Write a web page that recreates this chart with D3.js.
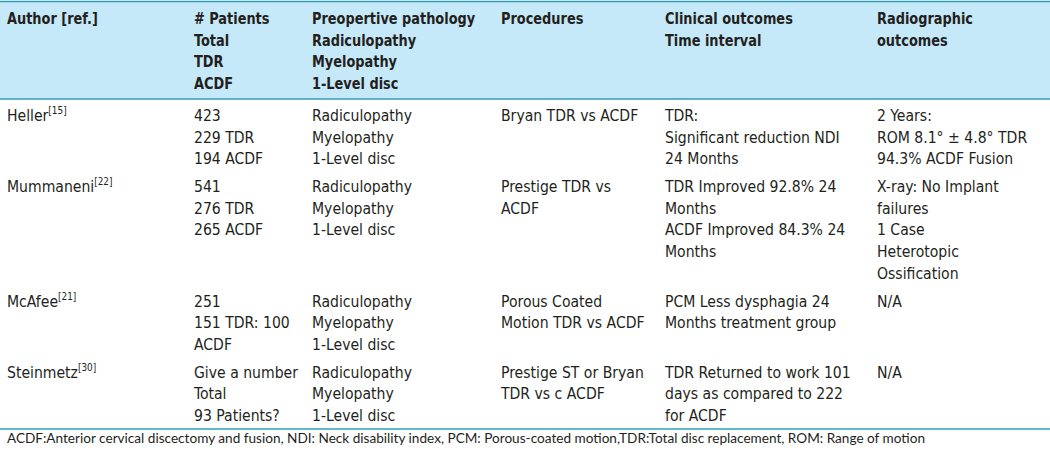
<!DOCTYPE html>
<html>
<head>
<meta charset="UTF-8">
<style>
  html, body { margin: 0; padding: 0; background: #fff; }
</style>
<script src="https://d3js.org/d3.v7.min.js"></script>
</head>
<body>
<div id="viz"></div>
<script>
// column headers (one entry per line)
const headers = [
  ["Author [ref.]"],
  ["# Patients", "Total", "TDR", "ACDF"],
  ["Preopertive pathology", "Radiculopathy", "Myelopathy", "1-Level disc"],
  ["Procedures"],
  ["Clinical outcomes", "Time interval"],
  ["Radiographic", "outcomes"]
];

const authors = ["Heller", "Mummaneni", "McAfee", "Steinmetz"];
const refs = ["[15]", "[22]", "[21]", "[30]"];
const patients = [
  ["423", "229 TDR", "194 ACDF"],
  ["541", "276 TDR", "265 ACDF"],
  ["251", "151 TDR: 100", "ACDF"],
  ["Give a number", "Total", "93 Patients?"]
];
const pathology = [
  ["Radiculopathy", "Myelopathy", "1-Level disc"],
  ["Radiculopathy", "Myelopathy", "1-Level disc"],
  ["Radiculopathy", "Myelopathy", "1-Level disc"],
  ["Radiculopathy", "Myelopathy", "1-Level disc"]
];
const procedures = [
  ["Bryan TDR vs ACDF"],
  ["Prestige TDR vs", "ACDF"],
  ["Porous Coated", "Motion TDR vs ACDF"],
  ["Prestige ST or Bryan", "TDR vs c ACDF"]
];
const clinical = [
  ["TDR:", "Significant reduction NDI", "24 Months"],
  ["TDR Improved 92.8% 24", "Months", "ACDF Improved 84.3% 24", "Months"],
  ["PCM Less dysphagia 24", "Months treatment group"],
  ["TDR Returned to work 101", "days as compared to 222", "for ACDF"]
];
const radiographic = [
  ["2 Years:", "ROM 8.1\u00b0 \u00b1 4.8\u00b0 TDR", "94.3% ACDF Fusion"],
  ["X-ray: No Implant", "failures", "1 Case", "Heterotopic", "Ossification"],
  ["N/A"],
  ["N/A"]
];
const footnote = "ACDF:Anterior cervical discectomy and fusion, NDI: Neck disability index, PCM: Porous-coated motion,TDR:Total disc replacement, ROM: Range of motion";

const width = 1050, height = 451;
const lineH = 21.7, rowPad = 6;
const colX = d3.scaleOrdinal().domain(d3.range(6)).range([7, 194, 312, 501, 665, 877]);
const teal = "#2f9cb6", headBg = "#c6e9f9", ink = "#231f20";
// no narrow font installed: squeeze DejaVu Sans Condensed horizontally
const sxReg = 0.945, sxBold = 0.87;

const svg = d3.select("#viz").append("svg")
  .attr("width", width).attr("height", height)
  .attr("font-family", "'Liberation Sans Narrow', 'DejaVu Sans Condensed', sans-serif")
  .attr("font-size", 16.5).attr("fill", ink);

// header band
const headTop = 1.5, headBottom = 99;
svg.append("rect").attr("x", 0).attr("y", headTop).attr("width", width)
  .attr("height", headBottom - headTop).attr("fill", headBg);

headers.forEach((lines, c) => {
  svg.append("g").attr("transform", `translate(${colX(c)},0) scale(${sxBold},1)`)
    .selectAll("text").data(lines).join("text")
    .attr("x", 0).attr("y", (d, i) => 24 + i * lineH)
    .attr("font-weight", "bold").text(d => d);
});

// body rows
const rows = authors.map((a, r) => ({
  cells: [[a], patients[r], pathology[r], procedures[r], clinical[r], radiographic[r]],
  ref: refs[r]
}));
let y = headBottom;
rows.forEach(row => {
  const n = d3.max(row.cells, c => c.length);
  row.cells.forEach((lines, c) => {
    const t = svg.append("g").attr("transform", `translate(${colX(c)},${y}) scale(${sxReg},1)`)
      .selectAll("text").data(lines).join("text")
      .attr("x", 0).attr("y", (d, i) => 22 + i * lineH)
      .text(d => d);
    if (c === 0) t.append("tspan").attr("font-size", 10.5).attr("dy", -7).text(row.ref);
  });
  y += n * lineH + rowPad;
});

// rules
[headTop, headBottom, 429].forEach(ry => {
  svg.append("line").attr("x1", 0).attr("x2", width).attr("y1", ry).attr("y2", ry)
    .attr("stroke", teal).attr("stroke-width", 1.5);
});

svg.append("text").attr("x", 7).attr("y", 443)
  .attr("font-family", "Lato, 'Open Sans', sans-serif").attr("font-size", 13.6)
  .text(footnote);
</script>
</body>
</html>
